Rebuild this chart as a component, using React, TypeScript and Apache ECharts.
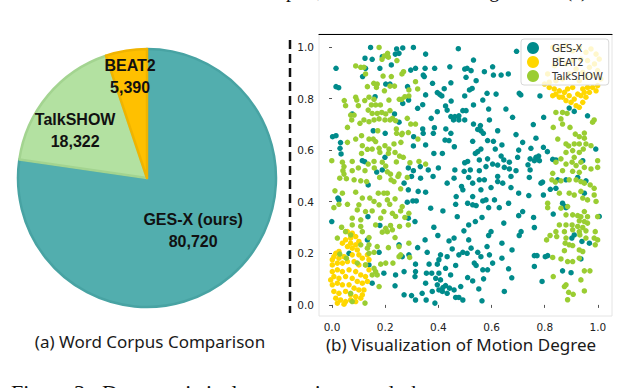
import React, { useEffect, useRef } from 'react';
import * as echarts from 'echarts';

// ---------- Pie data ----------
const pieNames = ['GES-X (ours)', 'TalkSHOW', 'BEAT2'];
const pieValues = [80720, 18322, 5390];
const pieColors = ['#52AEAE', '#B3E1A1', '#FFC000'];
const pieBorders = ['#48A3A3', '#A3D490', '#F0B400'];

// ---------- Scatter data ----------
const scatterNames = ['GES-X', 'BEAT2', 'TalkSHOW'];
const scatterColors = ['#008B8B', '#FFD700', '#9ACD32'];
const xTicks = [0, 0.2, 0.4, 0.6, 0.8, 1.0];
const yTicks = [0, 0.2, 0.4, 0.6, 0.8, 1.0];

const gesX: number[][] = [
  [0.145,0.998],[0.243,0.992],[0.266,0.996],[0.306,0.998],[0.352,0.972],[0.475,0.993],[0.124,0.956],[0.151,0.952],[0.189,0.962],[0.238,0.972],
  [0.252,0.975],[0.223,0.930],[0.015,0.917],[0.126,0.917],[0.180,0.917],[0.296,0.910],[0.314,0.917],[0.350,0.917],[0.386,0.917],[0.443,0.923],
  [0.499,0.914],[0.115,0.885],[0.343,0.891],[0.347,0.885],[0.015,0.846],[0.025,0.842],[0.202,0.856],[0.218,0.856],[0.284,0.846],[0.378,0.859],
  [0.447,0.861],[0.422,0.838],[0.396,0.823],[0.405,0.816],[0.413,0.810],[0.352,0.814],[0.499,0.810],[0.162,0.807],[0.288,0.794],[0.448,0.790],
  [0.266,0.781],[0.341,0.776],[0.427,0.771],[0.396,0.749],[0.433,0.755],[0.447,0.730],[0.462,0.730],[0.477,0.733],[0.492,0.753],[0.457,0.717],
  [0.477,0.717],[0.499,0.717],[0.322,0.762],[0.235,0.740],[0.252,0.708],[0.076,0.740],[0.373,0.723],[0.341,0.682],[0.385,0.687],[0.428,0.682],
  [0.155,0.675],[0.200,0.665],[0.343,0.665],[0.381,0.665],[0.447,0.665],[0.002,0.652],[0.015,0.656],[0.307,0.652],[0.425,0.639],[0.440,0.637],
  [0.032,0.629],[0.030,0.607],[0.306,0.616],[0.352,0.620],[0.460,0.613],[0.034,0.585],[0.383,0.587],[0.415,0.587],[0.114,0.559],[0.123,0.555],
  [0.199,0.572],[0.287,0.531],[0.306,0.520],[0.362,0.523],[0.400,0.531],[0.462,0.523],[0.499,0.551],[0.168,0.515],[0.189,0.523],[0.332,0.536],
  [0.497,0.518],
  [0.694,0.983],[0.532,0.949],[0.604,0.923],[0.508,0.917],[0.523,0.908],[0.573,0.904],[0.607,0.891],[0.636,0.891],[0.663,0.895],[0.504,0.882],
  [0.542,0.869],[0.517,0.833],[0.527,0.839],[0.583,0.820],[0.617,0.817],[0.704,0.820],[0.710,0.814],[0.782,0.810],[0.567,0.794],[0.532,0.775],
  [0.589,0.759],[0.654,0.759],[0.504,0.753],[0.679,0.727],[0.796,0.727],[0.592,0.717],[0.532,0.701],[0.558,0.695],[0.757,0.699],[0.548,0.680],
  [0.560,0.675],[0.623,0.675],[0.569,0.665],[0.692,0.660],[0.767,0.646],[0.529,0.634],[0.585,0.637],[0.607,0.634],[0.717,0.630],[0.639,0.620],
  [0.795,0.611],[0.560,0.604],[0.614,0.604],[0.702,0.600],[0.748,0.607],[0.548,0.594],[0.539,0.587],[0.810,0.594],[0.636,0.577],[0.777,0.577],
  [0.780,0.559],[0.767,0.572],[0.554,0.562],[0.585,0.566],[0.646,0.562],[0.667,0.553],[0.698,0.572],[0.745,0.566],[0.761,0.559],[0.830,0.564],
  [0.842,0.562],[0.510,0.556],[0.604,0.546],[0.623,0.542],[0.737,0.543],[0.579,0.536],[0.648,0.533],[0.667,0.527],[0.692,0.520],[0.520,0.523],
  [0.554,0.520],[0.745,0.523],[0.943,0.559],[0.961,0.733],[0.911,0.750],[0.892,0.763],[0.992,0.604],
  [0.136,0.465],[0.022,0.414],[0.026,0.407],[-0.001,0.323],[0.135,0.342],[0.180,0.308],[0.133,0.252],[0.064,0.200],[0.177,0.204],[0.139,0.155],
  [0.195,0.123],[0.151,0.084],[0.239,0.116],[0.237,0.074],[0.271,0.039],[0.299,0.036],[0.314,0.019],[0.339,0.045],[0.354,0.019],[0.387,0.007],
  [0.299,0.498],[0.333,0.491],[0.380,0.498],[0.433,0.472],[0.459,0.491],[0.487,0.459],[0.492,0.446],[0.271,0.472],[0.287,0.446],[0.324,0.440],
  [0.352,0.437],[0.467,0.420],[0.304,0.403],[0.283,0.398],[0.317,0.403],[0.371,0.375],[0.417,0.364],[0.465,0.390],[0.471,0.342],[0.287,0.336],
  [0.312,0.323],[0.383,0.301],[0.496,0.287],[0.398,0.269],[0.440,0.248],[0.459,0.259],[0.350,0.252],[0.252,0.233],[0.322,0.222],[0.358,0.204],
  [0.452,0.217],[0.492,0.204],[0.477,0.194],[0.408,0.194],[0.433,0.187],[0.402,0.175],[0.289,0.194],[0.264,0.187],[0.365,0.158],[0.396,0.158],
  [0.465,0.153],[0.314,0.158],[0.375,0.123],[0.402,0.123],[0.427,0.142],[0.355,0.123],[0.314,0.129],[0.446,0.116],[0.390,0.103],[0.408,0.097],
  [0.352,0.084],[0.396,0.078],[0.427,0.075],[0.442,0.065],[0.459,0.058],[0.402,0.058],[0.415,0.052],[0.417,0.067],[0.433,0.045],[0.377,0.052],
  [0.484,0.071],[0.465,0.029],[0.477,0.029],[0.492,0.019],[0.312,0.110],[0.271,0.129],
  [0.514,0.494],[0.529,0.472],[0.554,0.485],[0.573,0.485],[0.623,0.498],[0.623,0.478],[0.642,0.472],[0.673,0.498],[0.742,0.494],[0.786,0.472],
  [0.792,0.476],[0.560,0.446],[0.598,0.455],[0.673,0.455],[0.702,0.433],[0.740,0.424],[0.795,0.426],[0.821,0.448],[0.842,0.452],[0.849,0.485],
  [0.880,0.485],[0.529,0.420],[0.567,0.403],[0.579,0.407],[0.510,0.394],[0.529,0.388],[0.542,0.385],[0.589,0.377],[0.611,0.407],[0.629,0.377],
  [0.664,0.394],[0.717,0.362],[0.702,0.346],[0.564,0.339],[0.539,0.323],[0.514,0.310],[0.646,0.317],[0.758,0.339],[0.761,0.300],[0.832,0.352],
  [0.867,0.394],[0.877,0.381],[0.598,0.284],[0.589,0.269],[0.704,0.269],[0.711,0.284],[0.514,0.252],[0.523,0.220],[0.583,0.226],[0.639,0.239],
  [0.677,0.213],[0.508,0.200],[0.548,0.204],[0.592,0.194],[0.560,0.187],[0.639,0.181],[0.761,0.191],[0.771,0.191],[0.802,0.187],[0.811,0.191],
  [0.535,0.162],[0.604,0.162],[0.542,0.153],[0.761,0.149],[0.567,0.136],[0.585,0.136],[0.664,0.140],[0.867,0.132],[0.899,0.125],[0.510,0.106],
  [0.529,0.093],[0.570,0.101],[0.676,0.105],[0.790,0.091],[0.552,0.062],[0.648,0.052],[0.564,0.016],[0.902,0.259],[0.940,0.246],[0.968,0.239],
  [0.936,0.178],[0.880,0.377],[0.949,0.433],[0.955,0.481],[0.924,0.494],[1.005,0.343],[0.911,0.271],
];

const beat2: number[][] = [
  [0.817,0.843],[0.836,0.837],[0.855,0.830],[0.874,0.824],[0.892,0.811],[0.911,0.798],[0.867,0.805],[0.880,0.792],[0.899,0.785],[0.918,0.772],
  [0.930,0.766],[0.943,0.785],[0.955,0.805],[0.968,0.824],[0.980,0.843],[0.993,0.830],[0.999,0.850],[0.943,0.837],[0.924,0.817],[0.936,0.811],
  [0.949,0.824],[0.961,0.843],[0.905,0.843],[0.886,0.837],[0.842,0.817],[0.830,0.811],[0.855,0.805],
  [0.830,0.998],[0.855,0.992],[0.880,1.005],[0.905,0.985],[0.930,0.998],[0.955,0.979],[0.974,0.992],[0.993,0.972],[1.005,0.953],[0.987,0.934],
  [0.968,0.921],[0.999,0.908],[0.980,0.889],[0.955,0.882],[0.930,0.869],[0.943,0.901],[0.918,0.914],[0.892,0.895],[0.867,0.876],[0.842,0.869],
  [0.817,0.863],[0.799,0.856],[0.880,0.934],[0.905,0.947],[0.936,0.953],[0.961,0.947],[0.855,0.953],[0.836,0.927],[0.811,0.895],[1.011,0.876],
  [0.058,0.284],[0.076,0.278],[0.089,0.265],[0.070,0.259],[0.051,0.252],[0.039,0.239],[0.070,0.239],[0.089,0.233],[0.101,0.246],[0.058,0.226],
  [0.076,0.220],[0.095,0.213],[0.014,0.200],[0.007,0.187],[0.026,0.181],[0.045,0.187],[0.076,0.194],[0.101,0.194],[0.114,0.181],[0.020,0.162],
  [0.001,0.155],[0.039,0.162],[0.058,0.168],[0.083,0.168],[0.101,0.155],[0.126,0.155],[0.139,0.136],[0.001,0.129],[0.020,0.136],[0.039,0.129],
  [0.064,0.136],[0.089,0.129],[0.108,0.116],[0.126,0.110],[0.007,0.110],[0.026,0.103],[0.051,0.110],[0.076,0.103],[0.095,0.091],[0.114,0.084],
  [0.133,0.091],[0.001,0.078],[0.020,0.084],[0.039,0.078],[0.064,0.078],[0.083,0.065],[0.101,0.058],[0.120,0.058],[0.007,0.052],[0.026,0.045],
  [0.051,0.052],[0.070,0.039],[0.089,0.032],[0.108,0.026],[0.014,0.026],[0.032,0.019],[0.051,0.013],[0.070,0.019],[0.020,0.007],[0.045,0.003],
  [0.089,0.013],[0.114,0.039],[-0.005,0.097],[0.001,0.175],[0.139,0.175],[0.026,0.207],[0.133,0.194],
];

const talkShow: number[][] = [
  [0.177,0.998],[0.209,0.975],[0.197,0.965],[0.212,0.960],[0.188,0.952],[0.244,0.947],[0.089,0.926],[0.108,0.921],[0.120,0.921],[0.126,0.895],
  [0.192,0.887],[0.223,0.885],[0.263,0.895],[0.269,0.904],[0.314,0.865],[0.133,0.846],[0.157,0.859],[0.170,0.856],[0.167,0.843],[0.218,0.848],
  [0.235,0.848],[0.289,0.833],[0.322,0.837],[0.197,0.830],[0.274,0.807],[0.089,0.805],[0.093,0.794],[0.139,0.805],[0.158,0.797],[0.123,0.792],
  [0.289,0.810],[0.046,0.792],[0.148,0.775],[0.164,0.775],[0.182,0.775],[0.214,0.794],[0.253,0.797],[0.262,0.797],[0.051,0.772],[0.099,0.772],
  [0.136,0.755],[0.151,0.742],[0.170,0.742],[0.187,0.746],[0.202,0.740],[0.218,0.753],[0.070,0.736],[0.083,0.736],[0.074,0.717],[0.105,0.704],
  [0.139,0.710],[0.158,0.717],[0.177,0.721],[0.199,0.717],[0.218,0.717],[0.227,0.723],[0.239,0.714],[0.283,0.723],[0.296,0.701],[0.314,0.701],
  [0.058,0.688],[0.120,0.717],[0.172,0.675],[0.242,0.682],[0.243,0.665],[0.264,0.665],[0.287,0.668],[0.111,0.656],[0.139,0.643],[0.155,0.643],
  [0.058,0.630],[0.089,0.643],[0.114,0.617],[0.133,0.603],[0.151,0.604],[0.177,0.607],[0.199,0.617],[0.214,0.604],[0.233,0.624],[0.259,0.630],
  [0.262,0.660],[0.323,0.643],[0.164,0.633],[0.111,0.587],[0.180,0.591],[0.212,0.587],[0.237,0.591],[0.254,0.577],[0.268,0.572],[-0.001,0.559],
  [0.039,0.553],[0.076,0.556],[0.136,0.546],[0.158,0.556],[0.189,0.553],[0.242,0.554],[0.293,0.551],[0.327,0.556],[0.352,0.546],[0.045,0.536],
  [0.041,0.520],[0.076,0.520],[0.099,0.531],[0.124,0.520],[0.159,0.531],[0.202,0.538],[0.208,0.516],[0.220,0.507],[0.045,0.507],[0.252,0.507],
  [0.842,0.746],[0.867,0.746],[0.884,0.742],[0.861,0.721],[0.867,0.701],[0.980,0.708],[0.986,0.717],[0.832,0.688],[0.895,0.688],[0.915,0.662],
  [0.949,0.666],[0.930,0.652],[0.949,0.646],[0.849,0.643],[0.880,0.624],[0.890,0.616],[0.911,0.624],[0.930,0.624],[0.955,0.624],[0.945,0.604],
  [0.974,0.617],[0.905,0.598],[0.930,0.591],[0.880,0.591],[0.911,0.572],[0.861,0.566],[0.842,0.553],[0.880,0.546],[0.903,0.553],[0.918,0.540],
  [0.936,0.553],[0.949,0.533],[0.974,0.527],[0.999,0.533],[0.867,0.520],[0.905,0.518],[0.930,0.514],[0.830,0.510],[0.999,0.559],
  [0.029,0.491],[0.054,0.489],[0.083,0.485],[0.108,0.481],[0.130,0.478],[0.179,0.494],[0.222,0.485],[0.248,0.498],[0.233,0.478],[0.283,0.494],
  [0.011,0.442],[0.039,0.433],[0.089,0.437],[0.174,0.433],[0.195,0.433],[0.208,0.433],[0.258,0.450],[0.114,0.414],[0.142,0.414],[0.158,0.401],
  [0.208,0.407],[0.237,0.411],[0.007,0.377],[0.026,0.390],[0.058,0.390],[0.101,0.388],[0.177,0.388],[0.217,0.390],[0.264,0.381],[0.095,0.368],
  [0.126,0.362],[0.151,0.364],[0.195,0.362],[0.227,0.355],[0.258,0.364],[0.289,0.355],[0.076,0.336],[0.108,0.330],[0.183,0.336],[0.239,0.343],
  [0.274,0.339],[0.036,0.301],[0.076,0.310],[0.108,0.304],[0.164,0.310],[0.202,0.297],[0.220,0.308],[0.254,0.304],[0.287,0.310],[0.051,0.284],
  [0.114,0.284],[0.189,0.282],[0.208,0.284],[0.227,0.291],[0.237,0.261],[0.139,0.261],[0.070,0.271],[0.020,0.259],[0.108,0.233],[0.139,0.233],
  [0.170,0.226],[0.212,0.222],[0.289,0.239],[0.252,0.226],[0.139,0.200],[0.158,0.204],[0.029,0.197],[0.252,0.187],[0.258,0.194],[0.292,0.184],
  [0.095,0.162],[0.126,0.155],[0.158,0.142],[0.183,0.158],[0.202,0.162],[0.229,0.162],[0.164,0.129],[0.151,0.116],[0.170,0.116],[0.177,0.071],
  [0.070,0.045],[0.076,0.013],[0.124,0.007],[0.054,0.181],[0.133,0.220],
  [0.827,0.485],[0.840,0.476],[0.861,0.481],[0.892,0.485],[0.918,0.485],[0.936,0.478],[0.949,0.472],[0.971,0.465],[0.986,0.452],[0.855,0.433],
  [0.892,0.433],[0.911,0.426],[0.936,0.440],[0.943,0.414],[0.961,0.407],[0.986,0.426],[0.993,0.401],[0.811,0.394],[0.811,0.377],[0.861,0.375],
  [0.886,0.381],[0.905,0.349],[0.880,0.349],[0.924,0.346],[0.936,0.342],[0.949,0.362],[0.961,0.342],[0.999,0.342],[0.930,0.326],[0.949,0.323],
  [0.961,0.317],[0.855,0.310],[0.880,0.310],[0.903,0.310],[0.924,0.304],[0.943,0.300],[0.842,0.284],[0.874,0.284],[0.905,0.291],[0.930,0.284],
  [0.955,0.287],[0.990,0.284],[0.820,0.269],[0.845,0.265],[0.880,0.259],[0.932,0.271],[0.955,0.259],[0.986,0.259],[0.807,0.252],[0.877,0.239],
  [0.892,0.233],[0.905,0.230],[0.990,0.233],[0.999,0.252],[0.874,0.210],[0.930,0.213],[0.943,0.207],[0.830,0.184],[0.861,0.178],[0.886,0.168],
  [0.905,0.168],[0.930,0.181],[0.949,0.132],[0.970,0.132],[0.832,0.110],[0.936,0.097],[0.874,0.071],[0.880,0.078],[0.890,0.049],[0.907,0.041],
  [0.949,0.054],[0.886,0.020],
];

const scatterData = [gesX, beat2, talkShow];

// label offsets relative to ECharts' inside label position (layout only)
const pieLabelShift = [[2, 1], [-20, -4], [-6, -35]];

export default function App() {
  const ref = useRef<HTMLDivElement>(null);
  useEffect(() => {
    if (!ref.current) return;
    const chart = echarts.init(ref.current, null, { renderer: 'svg' });
    const axisFont = { fontFamily: 'DejaVu Sans', fontSize: 10.5, color: '#222', lineHeight: 11 };
    const option: any = {
      animation: false,
      backgroundColor: '#ffffff',
      grid: {
        left: 319, top: 34, width: 293, height: 282,
        show: true, borderColor: '#e4e4e4', borderWidth: 1,
      },
      xAxis: [
        {
          type: 'value', min: -0.049, max: 1.053,
          splitLine: { show: false },
          axisLine: { show: false },
          axisTick: { show: true, customValues: xTicks, length: 3, lineStyle: { color: '#555' } },
          axisLabel: { customValues: xTicks, formatter: (v: number) => v.toFixed(1), margin: 5, ...axisFont },
        },
        {
          type: 'value', position: 'top', min: -0.049, max: 1.053,
          splitLine: { show: false },
          axisLine: { show: true, lineStyle: { color: '#000', width: 1.2 } },
          axisTick: { show: false }, axisLabel: { show: false },
        },
      ],
      yAxis: {
        type: 'value', min: -0.043, max: 1.05,
        splitLine: { show: false },
        axisLine: { show: false },
        axisTick: { show: true, customValues: yTicks, length: 3, lineStyle: { color: '#555' } },
        axisLabel: { customValues: yTicks, formatter: (v: number) => v.toFixed(1), margin: 5, ...axisFont },
      },
      legend: {
        data: scatterNames,
        orient: 'vertical',
        left: 521, top: 39,
        padding: [3, 6, 3, 6],
        itemWidth: 12, itemHeight: 12, itemGap: 2,
        icon: 'circle',
        backgroundColor: 'rgba(255,255,255,0.8)',
        borderColor: '#d8d8d8', borderWidth: 1, borderRadius: 3,
        textStyle: { fontFamily: 'DejaVu Sans', fontSize: 10, color: '#333', padding: [0, 0, 0, 8] },
      },
      series: [
        ...scatterNames.map((name, i) => ({
          type: 'scatter', name, data: scatterData[i],
          symbolSize: 5.5,
          itemStyle: { color: scatterColors[i], opacity: 1 },
          xAxisIndex: 0, yAxisIndex: 0,
        })),
        {
          type: 'pie',
          center: [147, 178], radius: 129,
          startAngle: 90, clockwise: true,
          legendHoverLink: false,
          data: pieNames.map((name, i) => ({
            name, value: pieValues[i],
            itemStyle: { color: pieColors[i], borderColor: pieBorders[i], borderWidth: 2.5 },
          })),
          label: {
            show: true, position: 'inside',
            formatter: (p: any) => `${p.name}\n${Number(p.value).toLocaleString('en-US')}`,
            fontFamily: 'Liberation Sans', fontWeight: 'bold', fontSize: 16, lineHeight: 22,
            color: '#111', align: 'center',
          },
          labelLine: { show: false },
          labelLayout: (p: any) => ({ dx: pieLabelShift[p.dataIndex][0], dy: pieLabelShift[p.dataIndex][1] }),
        },
      ],
      graphic: [
        {
          type: 'line', shape: { x1: 290, y1: 40, x2: 290, y2: 313 },
          style: { stroke: '#111', lineWidth: 2.5, lineDash: [9, 5] },
        },
        {
          type: 'text', x: 150, y: 341,
          style: { text: '(a) Word Corpus Comparison', fontFamily: 'Noto Sans', fontSize: 17, lineHeight: 17, fill: '#1a1a1a', align: 'center', verticalAlign: 'middle' },
        },
        {
          type: 'text', x: 461, y: 344,
          style: { text: '(b) Visualization of Motion Degree', fontFamily: 'Noto Sans', fontSize: 17, lineHeight: 17, fill: '#1a1a1a', align: 'center', verticalAlign: 'middle' },
        },
        {
          type: 'text', x: 286, y: -10,
          style: { text: 'plot, and the motion in Figure 3 in (c)', fontFamily: 'Liberation Serif', fontSize: 20, fill: '#111', align: 'left', verticalAlign: 'middle' },
        },
        {
          type: 'text', x: 11, y: 392.5,
          style: { text: 'Figure 3:  Data  statistical  comparison  and  the', fontFamily: 'Liberation Serif', fontSize: 22, fill: '#111', align: 'left', verticalAlign: 'middle' },
        },
      ],
    };
    chart.setOption(option);
    return () => chart.dispose();
  }, []);
  return (
    <div
      ref={ref}
      style={{ position: 'fixed', left: 0, top: 0, width: 620, height: 388, background: '#fff' }}
    />
  );
}
